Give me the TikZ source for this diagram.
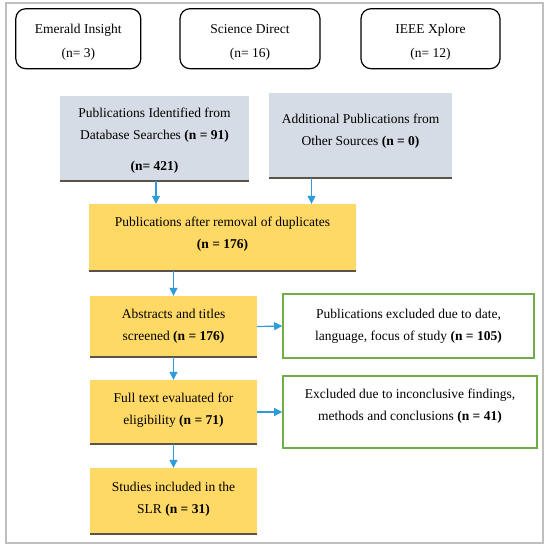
\documentclass[tikz,border=0pt]{standalone}
\usepackage{fontspec}
\setmainfont{Liberation Serif}
\usetikzlibrary{arrows.meta}
\definecolor{srcgrey}{HTML}{D6DCE5}
\definecolor{stagegold}{HTML}{FFD966}
\definecolor{exclgreen}{HTML}{70AD47}
\definecolor{flowblue}{HTML}{2E9BDA}
\definecolor{edgedark}{HTML}{5A5448}
\definecolor{framegrey}{HTML}{BFBFBF}

\begin{document}
\begin{tikzpicture}[x=1pt,y=1pt]
        \tikzstyle{every node}+=[inner sep=0pt,align=center,font=\fontsize{13.5}{22}\selectfont]
        \tikzstyle{source}=[draw=black,line width=1.2pt,rounded corners=10pt,minimum height=60pt]
        \tikzstyle{search}=[fill=srcgrey,minimum height=85pt]
        \tikzstyle{stage}=[fill=stagegold,minimum width=167pt]
        \tikzstyle{excluded}=[draw=exclgreen,line width=1.6pt]
        \tikzstyle{flow}=[flowblue,line width=1.2pt,-{Triangle[width=8pt,length=8pt]}]
        \tikzstyle{ledge}=[edgedark,line width=2pt]
        \useasboundingbox (0,0) rectangle (550,-547);
        \draw [framegrey,line width=1.2pt] (6,-3) rectangle (543,-543);
        \node [source,minimum width=125pt] (emerald) at (78.3,-38.7) {\rule{0pt}{17pt}Emerald Insight\\[2pt](n= 3)};
        \node [source,minimum width=140pt] (science) at (250,-38.7) {\rule{0pt}{17pt}Science Direct\\[2pt](n= 16)};
        \node [source,minimum width=139pt] (ieee) at (430.5,-38.7) {\rule{0pt}{17pt}IEEE Xplore\\[2pt](n= 12)};
        \node [search,minimum width=189pt] (dbs) at (154.5,-138) {\rule{0pt}{15.5pt}Publications Identified from\\Database Searches \textbf{(n = 91)}\\[9pt]\textbf{(n= 421)}};
        \node [search,minimum width=183pt] (other) at (360.5,-135.5) {Additional Publications from\\Other Sources \textbf{(n = 0)}\rule[-11pt]{0pt}{0pt}};
        \node [stage,minimum width=267pt,minimum height=67pt] (dups) at (222.5,-237.5) {Publications after removal of duplicates\\\textbf{(n = 176)}\rule[-10pt]{0pt}{0pt}};
        \node [stage,minimum height=61pt] (screen) at (173.5,-326.5) {Abstracts and titles\\screened \textbf{(n = 176)}};
        \node [stage,minimum height=64pt] (full) at (173.5,-412) {Full text evaluated for\\eligibility \textbf{(n = 71)}\rule[-6pt]{0pt}{0pt}};
        \node [stage,minimum height=66pt] (slr) at (173.5,-501) {Studies included in the\\SLR \textbf{(n = 31)}\rule[-6pt]{0pt}{0pt}};
        \node [excluded,minimum width=251pt,minimum height=64pt] (notfit) at (408.5,-326) {Publications excluded due to date,\\language, focus of study \textbf{(n = 105)}};
        \node [excluded,minimum width=254pt,minimum height=72pt] (inconcl) at (410,-412) {Excluded due to inconclusive findings,\\methods and conclusions \textbf{(n = 41)}\rule[-15pt]{0pt}{0pt}};
        \foreach \n in {dbs,other,dups,screen,full,slr}
                \draw [ledge] (\n.south west) -- (\n.south east);
        \draw [flow] ([xshift=1.5pt]dbs.south) -- ([xshift=1.5pt]dbs.south |- dups.north);
        \draw [flow] ([xshift=-49pt]other.south) -- ([xshift=-49pt]other.south |- dups.north);
        \draw [flow] (dups.south -| screen.north) -- (screen.north);
        \draw [flow] (screen.east) -- (notfit.west);
        \draw [flow] (screen.south) -- (full.north);
        \draw [flow] (full.east) -- (inconcl.west);
        \draw [flow] (full.south) -- (slr.north);
\end{tikzpicture}
\end{document}
